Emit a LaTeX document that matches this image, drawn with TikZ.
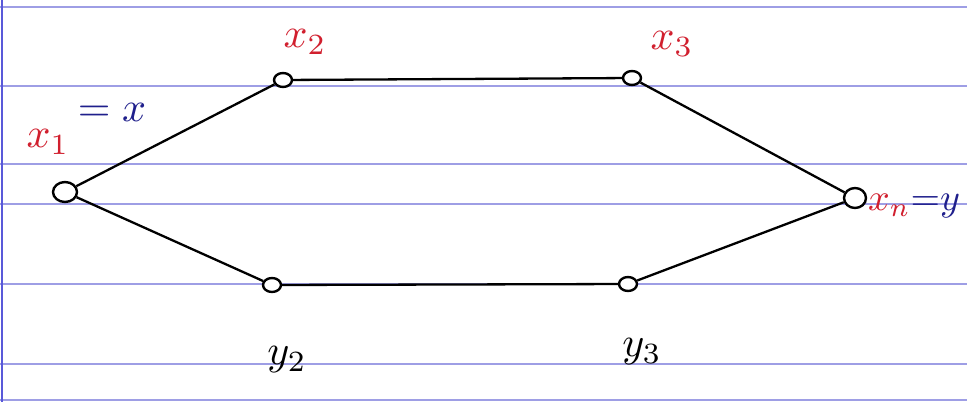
\documentclass[tikz,border=0pt]{standalone}
\usepackage{xcolor}
\usepackage{graphicx}
\usetikzlibrary{shapes.geometric}
\definecolor{ruling}{rgb}{0.62,0.62,0.9}
\definecolor{margin}{rgb}{0.35,0.35,0.85}
\definecolor{redink}{rgb}{0.82,0.12,0.18}
\definecolor{blueink}{rgb}{0.12,0.12,0.55}
\newcommand{\hand}[1]{\scalebox{4.2}{#1}}
\newcommand{\handsmall}[1]{\scalebox{3.8}{#1}}
\begin{document}
\begin{tikzpicture}[x=1pt,y=-1pt,
  vtx/.style={draw=black,line width=2.4pt,ellipse,minimum width=18pt,minimum height=14pt,inner sep=0pt,fill=white},
  edge/.style={draw=black,line width=2.3pt},
  rule/.style={draw=ruling,line width=1.3pt},
  lbl/.style={inner sep=0pt}]
\useasboundingbox (0,0) rectangle (967,402);
\fill[white] (0,0) rectangle (967,402);
% ruled paper
\foreach \yy in {7,86,164,204,284,364,400}
  \draw[rule] (0,\yy) -- (967,\yy);
\draw[draw=margin,line width=1.6pt] (2,0) -- (2,402);
% vertices
\node[vtx,minimum width=24pt,minimum height=20pt] (x1) at (65,192) {};
\node[vtx] (x2) at (283,80) {};
\node[vtx] (x3) at (632,78) {};
\node[vtx,minimum width=22pt,minimum height=20pt] (xn) at (855,198) {};
\node[vtx] (y2) at (272,285) {};
\node[vtx] (y3) at (628,284) {};
% edges
\draw[edge] (x1) -- (x2);
\draw[edge] (x2) -- (x3);
\draw[edge] (x3) -- (xn);
\draw[edge] (x1) -- (y2);
\draw[edge] (y2) -- (y3);
\draw[edge] (y3) -- (xn);
% labels
\node[lbl,text=redink] (lx2) at (305,42) {\hand{$x_2$}};
\node[lbl,text=redink] (lx3) at (672,44) {\hand{$x_3$}};
\node[lbl,text=redink] (lx1) at (48,142) {\hand{$x_1$}};
\node[lbl,text=blueink] (lx1b) at (112,112) {\hand{$=x$}};
\node[lbl,anchor=west] (lxn) at (868,206) {\handsmall{$\textcolor{redink}{x_n}\textcolor{blueink}{{=}y}$}};
\node[lbl,text=black] (ly2) at (287,360) {\hand{$y_2$}};
\node[lbl,text=black] (ly3) at (642,352) {\hand{$y_3$}};
\end{tikzpicture}
\end{document}
